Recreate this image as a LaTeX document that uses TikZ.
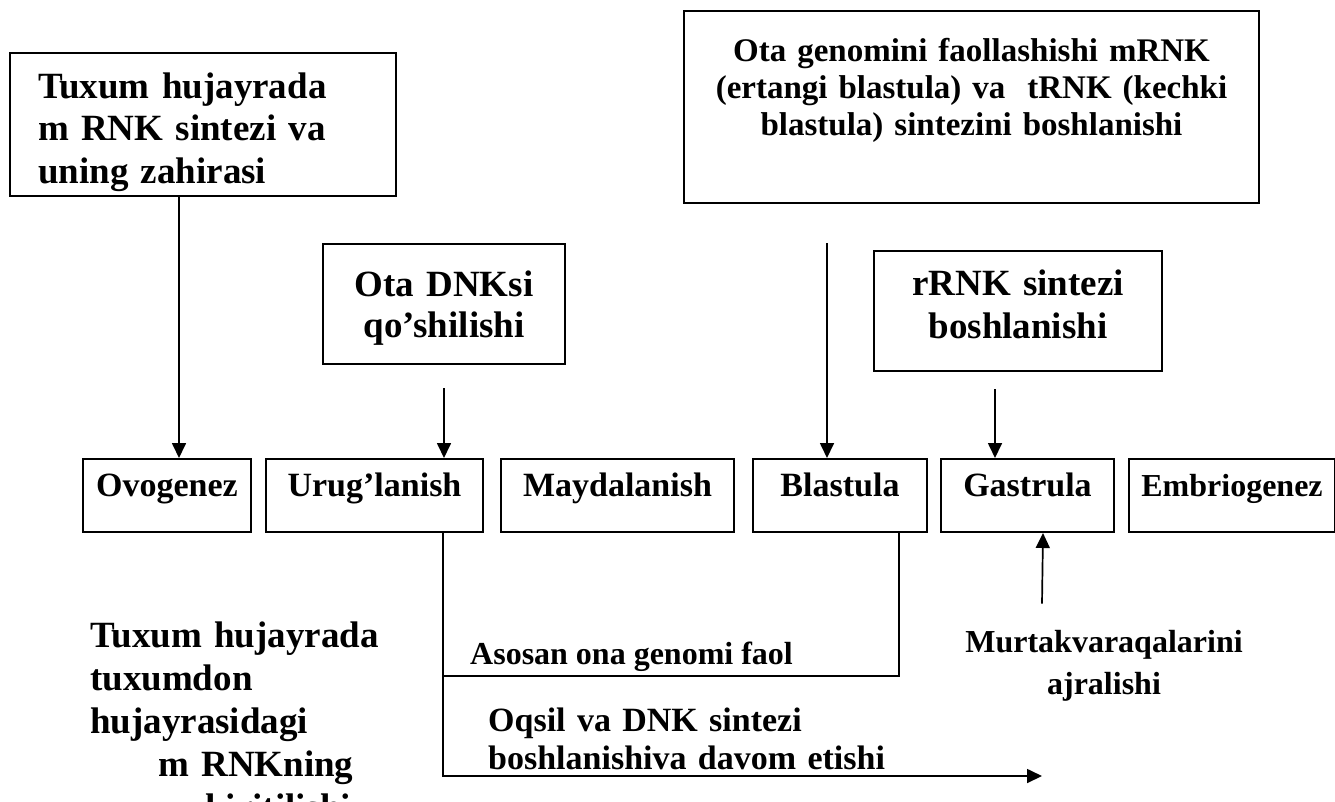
\documentclass[tikz,border=0pt]{standalone}
\usepackage{fontspec}
\setmainfont{Liberation Serif}
\usetikzlibrary{arrows.meta}

\newcommand{\fbig}{\bfseries\fontsize{37}{42.5}\selectfont}
\newcommand{\fmid}{\bfseries\fontsize{32}{42}\selectfont}
\newcommand{\frow}{\bfseries\fontsize{34}{40}\selectfont}

\begin{document}
\begin{tikzpicture}[x=1pt,y=-1pt,
    box/.style={draw,line width=2pt,inner sep=0pt},
    stage/.style={box,anchor=north west,minimum height=73pt,text height=37pt,text depth=36pt,font=\frow},
    lbl/.style={inner sep=0pt},
    arr/.style={line width=1.7pt,-{Triangle[length=15pt,width=14pt]}},
    conn/.style={line width=1.7pt}]
        \clip (0,0) rectangle (1335,801);
        % upper boxes
        \node[box,anchor=north west,text width=330pt,inner xsep=28pt,align=left,
            text height=45pt,text depth=98pt,font=\fbig] (eggbox) at (9,52)
            {Tuxum hujayrada\\m RNK sintezi va\\uning zahirasi};
        \node[box,anchor=north west,text width=555pt,inner xsep=10pt,align=center,
            text height=50pt,text depth=142pt,font=\bfseries\fontsize{33}{37}\selectfont] (patbox) at (683,10)
            {Ota genomini faollashishi mRNK\\(ertangi blastula) va\ \ tRNK (kechki\\blastula) sintezini boshlanishi};
        \node[box,anchor=north west,text width=222pt,inner xsep=10pt,align=center,
            text height=52pt,text depth=68pt,font=\bfseries\fontsize{37}{41}\selectfont] (dadbox) at (322,243)
            {Ota DNKsi\\qo’shilishi};
        \node[box,anchor=north west,text width=268pt,inner xsep=10pt,align=center,
            text height=44pt,text depth=76pt,font=\bfseries\fontsize{37}{43}\selectfont] (rrnkbox) at (873,250)
            {rRNK sintezi\\boshlanishi};
        % stages
        \node[stage,minimum width=168pt] (ovo) at (82,458) {Ovogenez};
        \node[stage,minimum width=217pt] (urug) at (265,458) {Urug’lanish};
        \node[stage,minimum width=233pt] (mayd) at (500,458) {Maydalanish};
        \node[stage,minimum width=174pt] (blast) at (752,458) {Blastula};
        \node[stage,minimum width=173pt] (gast) at (940,458) {Gastrula};
        \node[stage,minimum width=206pt,font=\bfseries\fontsize{32}{38}\selectfont] (embr) at (1128,458) {Embriogenez};
        % lower texts
        \node[lbl,anchor=base west,font=\fmid] (asosan) at (470,664) {Asosan ona genomi faol};
        \node[lbl,anchor=base west,text width=420pt,align=left,font=\bfseries\fontsize{34}{38}\selectfont] (oqsil) at (488,731)
            {Oqsil va DNK sintezi\\boshlanishiva davom etishi};
        \node[lbl,anchor=base,text width=300pt,align=center,font=\fmid] (murtak) at (1104,652)
            {Murtakvaraqalarini\\ajralishi};
        \node[lbl,anchor=base west,text width=320pt,align=left,font=\bfseries\fontsize{37}{43}\selectfont] (mrnatext) at (90,647)
            {Tuxum hujayrada\\tuxumdon\\hujayrasidagi\\\hspace*{68pt}m RNKning\\\hspace*{115pt}kiritilishi};
        % arrows
        \draw[arr] ([xshift=-24pt]eggbox.south) -- ([xshift=12pt]ovo.north);
        \draw[arr] ([yshift=-23pt]dadbox.south) -- ([xshift=69.5pt]urug.north);
        \draw[arr] ([xshift=-144.5pt,yshift=-39pt]patbox.south) -- ([xshift=-13pt]blast.north);
        \draw[arr] ([xshift=-23pt,yshift=-17pt]rrnkbox.south) -- ([xshift=-32.5pt]gast.north);
        \draw[arr] ([xshift=-62pt,yshift=26pt]murtak.north) -- ([xshift=15.5pt]gast.south);
        \coordinate (brk) at (442,676);
        \coordinate (tip) at (1042,776);
        \draw[conn] ([xshift=59pt]blast.south) |- (brk);
        \draw[arr] ([xshift=68.5pt]urug.south) |- (tip);
\end{tikzpicture}
\end{document}
